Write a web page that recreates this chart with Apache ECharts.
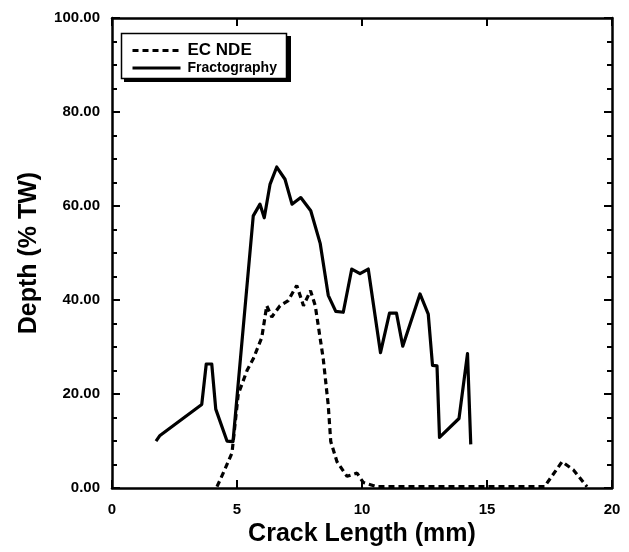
<!DOCTYPE html>
<html>
<head>
<meta charset="utf-8">
<script src="https://cdn.jsdelivr.net/npm/echarts@6/dist/echarts.min.js"></script>
<style>
  html, body { margin: 0; padding: 0; background: #fff; }
  #chart { width: 629px; height: 552px; }
</style>
</head>
<body>
<div id="chart"></div>
<script>
// Fractography (solid) — crack length (mm) and depth (% TW)
var fracX = [1.76, 1.92, 3.59, 3.77, 3.99, 4.15, 4.6, 4.84, 5.65, 5.92, 6.09, 6.32, 6.59, 6.92, 7.2, 7.55, 7.95, 8.33, 8.65, 8.95, 9.25, 9.59, 9.92, 10.25, 10.74, 11.1, 11.38, 11.63, 12.32, 12.65, 12.82, 13.0, 13.1, 13.88, 14.22, 14.35];
var fracY = [10.0, 11.2, 17.8, 26.4, 26.4, 16.8, 10.0, 9.9, 57.9, 60.4, 57.5, 64.6, 68.3, 65.7, 60.4, 61.8, 59.0, 52.0, 41.0, 37.6, 37.4, 46.6, 45.6, 46.6, 28.8, 37.2, 37.2, 30.2, 41.3, 37.0, 26.1, 26.0, 10.8, 14.8, 28.6, 9.3];

// EC NDE (dashed)
var ndeX = [4.2, 4.5, 4.8, 5.05, 5.4, 5.65, 5.99, 6.19, 6.39, 6.72, 7.05, 7.39, 7.66, 7.94, 8.13, 8.32, 8.45, 8.65, 8.75, 9.0, 9.4, 9.8, 10.05, 10.6, 17.3, 18.0, 18.45, 19.0];
var ndeY = [0.3, 3.8, 7.5, 20.0, 25.0, 27.5, 32.0, 38.8, 36.4, 38.8, 39.9, 43.1, 38.8, 42.0, 38.8, 32.1, 27.5, 17.6, 9.9, 5.6, 2.5, 3.2, 1.2, 0.3, 0.3, 5.6, 3.9, 0.3];

var xTicks = [0, 5, 10, 15, 20];
var yTicks = [0, 20, 40, 60, 80, 100];

function zip(xs, ys) { return xs.map(function (x, i) { return [x, ys[i]]; }); }

var FONT = '"Liberation Sans", Arial, Helvetica, sans-serif';
var axisLine = { show: true, onZero: false, lineStyle: { color: '#000', width: 2.5 } };

var chart = echarts.init(document.getElementById('chart'), null, { renderer: 'canvas' });
chart.setOption({
  backgroundColor: '#fff',
  animation: false,
  grid: { left: 112, right: 17, top: 18, bottom: 62, containLabel: false },
  graphic: [
    { type: 'rect', z: 10, shape: { x: 124, y: 36, width: 167, height: 46 }, style: { fill: '#000' } },
    { type: 'rect', z: 11, shape: { x: 121.5, y: 33.5, width: 165, height: 45 }, style: { fill: '#fff', stroke: '#000', lineWidth: 1.5 } }
  ],
  legend: {
    orient: 'vertical',
    left: 121, top: 33, z: 20,
    data: ['EC NDE', 'Fractography'],
    itemWidth: 48, itemHeight: 14, itemGap: 2,
    padding: [9, 12, 8, 10],
    itemStyle: { opacity: 0 },
    lineStyle: { width: 3 },
    textStyle: {
      fontFamily: FONT, color: '#000',
      rich: {
        a: { fontFamily: FONT, fontSize: 17, fontWeight: 'bold', color: '#000', padding: [0, 0, 0, 2] },
        b: { fontFamily: FONT, fontSize: 14, fontWeight: 'bold', color: '#000', padding: [0, 0, 0, 2] }
      }
    },
    formatter: function (n) { return n === 'EC NDE' ? '{a|' + n + '}' : '{b|' + n + '}'; }
  },
  xAxis: [{
    type: 'value', position: 'bottom',
    min: xTicks[0], max: xTicks[xTicks.length - 1], interval: 5,
    name: 'Crack Length (mm)', nameLocation: 'middle', nameGap: 33,
    nameTextStyle: { fontFamily: FONT, fontSize: 25, fontWeight: 'bold', color: '#000' },
    axisLine: axisLine,
    axisTick: { show: true, inside: true, length: 8, lineStyle: { color: '#000', width: 2 } },
    axisLabel: { margin: 14, fontFamily: FONT, fontSize: 15, fontWeight: 'bold', color: '#000' },
    splitLine: { show: false }
  }, {
    type: 'value', position: 'top',
    min: xTicks[0], max: xTicks[xTicks.length - 1], interval: 5,
    axisLine: axisLine,
    axisTick: { show: true, inside: true, length: 8, lineStyle: { color: '#000', width: 2 } },
    axisLabel: { show: false },
    splitLine: { show: false }
  }],
  yAxis: [{
    type: 'value', position: 'left',
    min: yTicks[0], max: yTicks[yTicks.length - 1], interval: 20,
    name: 'Depth (% TW)', nameLocation: 'middle', nameGap: 70, nameRotate: 90,
    nameTextStyle: { fontFamily: FONT, fontSize: 25, fontWeight: 'bold', color: '#000' },
    axisLine: axisLine,
    axisTick: { show: true, inside: true, length: 8, lineStyle: { color: '#000', width: 2 } },
    minorTick: { show: true, splitNumber: 4, length: 5, lineStyle: { color: '#000', width: 2 } },
    axisLabel: { margin: 12, fontFamily: FONT, fontSize: 15, fontWeight: 'bold', color: '#000',
      formatter: function (v) { return v.toFixed(2); } },
    splitLine: { show: false }, minorSplitLine: { show: false }
  }, {
    type: 'value', position: 'right',
    min: yTicks[0], max: yTicks[yTicks.length - 1], interval: 20,
    axisLine: axisLine,
    axisTick: { show: true, inside: true, length: 8, lineStyle: { color: '#000', width: 2 } },
    minorTick: { show: true, splitNumber: 4, length: 5, lineStyle: { color: '#000', width: 2 } },
    axisLabel: { show: false },
    splitLine: { show: false }, minorSplitLine: { show: false }
  }],
  series: [{
    name: 'EC NDE', type: 'line', xAxisIndex: 0, yAxisIndex: 0,
    data: zip(ndeX, ndeY), symbol: 'none', showSymbol: false,
    lineStyle: { color: '#000', width: 3.2, type: [6, 4] },
    itemStyle: { color: '#000' }
  }, {
    name: 'Fractography', type: 'line', xAxisIndex: 0, yAxisIndex: 0,
    data: zip(fracX, fracY), symbol: 'none', showSymbol: false,
    lineStyle: { color: '#000', width: 3.2, join: 'round' },
    itemStyle: { color: '#000' }
  }]
});
</script>
</body>
</html>
